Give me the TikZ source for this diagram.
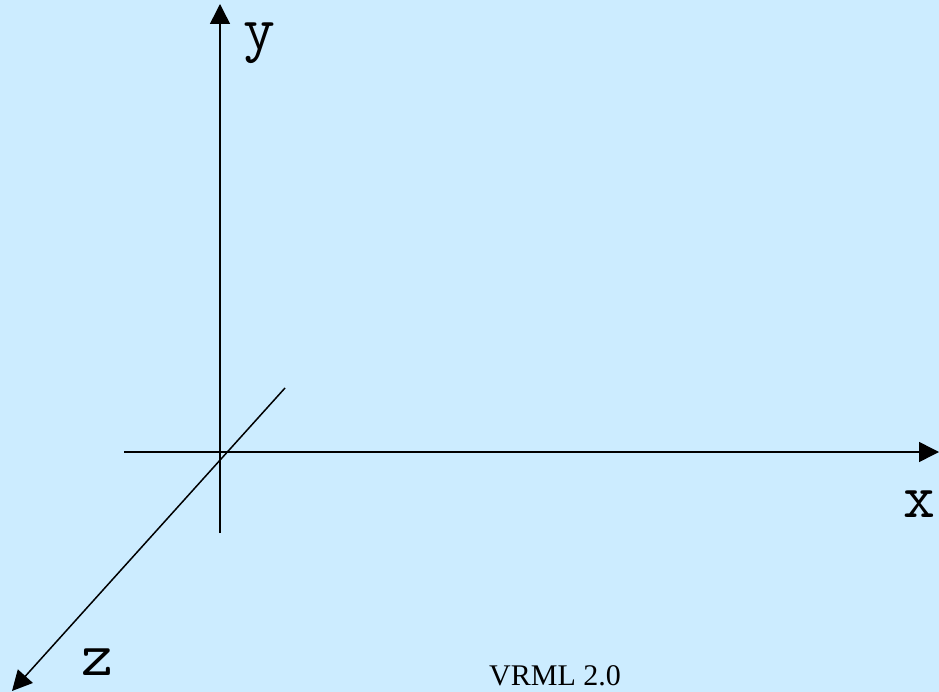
\documentclass[tikz,border=0pt]{standalone}
\usepackage{fontspec}
\usetikzlibrary{arrows.meta}
\newfontfamily\timesfont{Liberation Serif}
\definecolor{skyback}{RGB}{204,236,255}
\begin{document}
\begin{tikzpicture}[x=1pt,y=-1pt,axis/.style={line width=1.5pt,-{Triangle[length=20pt,width=20pt]}},axislabel/.style={anchor=base west,inner sep=0,font=\fontsize{62}{62}\ttfamily}]
\fill[skyback](0,0)rectangle(939,692);\useasboundingbox(0,0)rectangle(939,692);
\coordinate(ybot)at(220,533);\coordinate(ytop)at(220,4);
\coordinate(xbot)at(124,452);\coordinate(xtop)at(939,452);
\coordinate(zbot)at(285,388);\coordinate(ztop)at(12,691);
\draw[axis](ybot)--(ytop);\draw[axis](xbot)--(xtop);\draw[axis](zbot)--(ztop);
\node[axislabel](ylab)at(243,50){y};\node[axislabel](xlab)at(903,517){x};\node[axislabel](zlab)at(81,675){z};
\node[anchor=base west,inner sep=0,font=\fontsize{30}{30}\timesfont](title)at(489,685){VRML 2.0};
\end{tikzpicture}
\end{document}
